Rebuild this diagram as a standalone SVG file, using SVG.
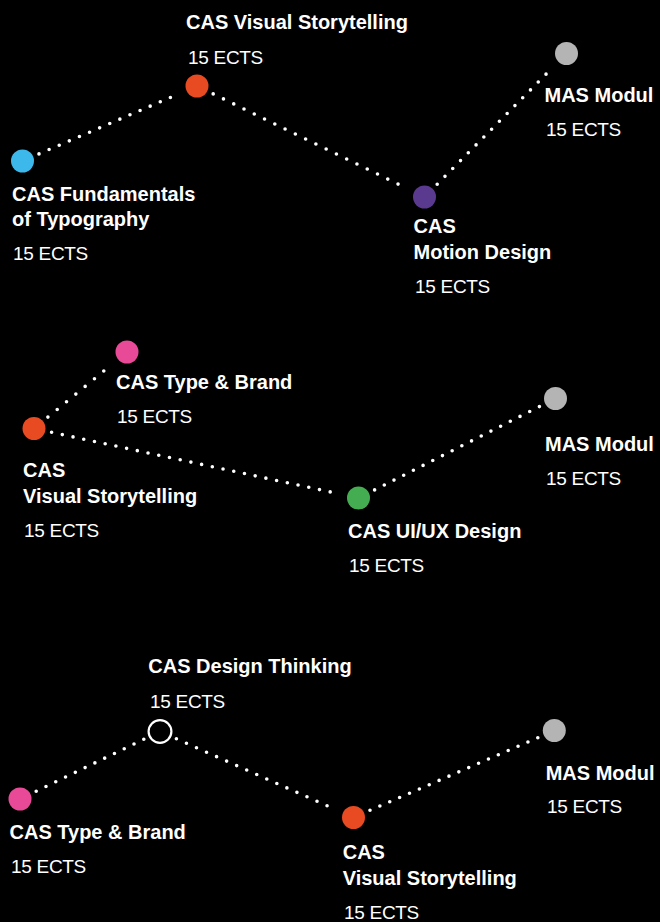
<svg xmlns="http://www.w3.org/2000/svg" width="660" height="922" viewBox="0 0 660 922">
<style>
.t{font-family:"Liberation Sans",Arial,sans-serif;font-weight:bold;font-size:20px;fill:#fff}
.e{font-family:"Liberation Sans",Arial,sans-serif;font-size:19px;letter-spacing:-0.3px;fill:#fff}
.c line{stroke:#fff;stroke-width:3.6;stroke-linecap:round;stroke-dasharray:0 1;fill:none}
.blue{fill:#3DB8EB}.orange{fill:#E84B21}.purple{fill:#5A3A8F}.gray{fill:#B4B4B4}.pink{fill:#E94A98}.green{fill:#44AD52}
.open{fill:#000;stroke:#fff;stroke-width:2.2}
</style>
<rect width="660" height="922" fill="#000"/>
<g id="connectors" class="c">
<line x1="39" y1="153.9" x2="180.5" y2="93.1" pathLength="14"/>
<line x1="213.2" y1="93.9" x2="408.3" y2="189.1" pathLength="19"/>
<line x1="437.2" y1="184.2" x2="553.8" y2="66.3" pathLength="15"/>
<line x1="47.9" y1="417.1" x2="113.1" y2="363.4" pathLength="7"/>
<line x1="51.6" y1="432.3" x2="340.9" y2="494.2" pathLength="27"/>
<line x1="374.6" y1="489.9" x2="539.4" y2="406.6" pathLength="17"/>
<line x1="36.2" y1="791.2" x2="143.8" y2="739.3" pathLength="11"/>
<line x1="176.4" y1="738.8" x2="337.1" y2="810.2" pathLength="16"/>
<line x1="370" y1="810.3" x2="537.8" y2="737.7" pathLength="17"/>
</g>
<g id="d1-fundamentals"><circle class="blue" cx="22.5" cy="161" r="11.5"/><text class="t" x="12" y="201">CAS Fundamentals</text><text class="t" x="12" y="226">of Typography</text><text class="e" x="13" y="260">15 ECTS</text></g>
<g id="d1-visual"><circle class="orange" cx="197" cy="86" r="11.5"/><text class="t" x="186" y="29">CAS Visual Storytelling</text><text class="e" x="188" y="64">15 ECTS</text></g>
<g id="d1-motion"><circle class="purple" cx="424.5" cy="197" r="11.5"/><text class="t" x="413.5" y="232.5">CAS</text><text class="t" x="413.5" y="258.5">Motion Design</text><text class="e" x="415" y="293">15 ECTS</text></g>
<g id="d1-mas"><circle class="gray" cx="566.5" cy="53.5" r="11.5"/><text class="t" x="544.5" y="102">MAS Modul</text><text class="e" x="546" y="136">15 ECTS</text></g>
<g id="d2-visual"><circle class="orange" cx="34" cy="428.5" r="11.5"/><text class="t" x="23" y="476.7">CAS</text><text class="t" x="23" y="503">Visual Storytelling</text><text class="e" x="24" y="536.7">15 ECTS</text></g>
<g id="d2-type"><circle class="pink" cx="127" cy="352" r="11.5"/><text class="t" x="116" y="389">CAS Type &amp; Brand</text><text class="e" x="117" y="423">15 ECTS</text></g>
<g id="d2-uiux"><circle class="green" cx="358.5" cy="498" r="11.5"/><text class="t" x="348" y="537.7">CAS UI/UX Design</text><text class="e" x="349" y="571.7">15 ECTS</text></g>
<g id="d2-mas"><circle class="gray" cx="555.5" cy="398.5" r="11.5"/><text class="t" x="545" y="451">MAS Modul</text><text class="e" x="546" y="485">15 ECTS</text></g>
<g id="d3-type"><circle class="pink" cx="20" cy="799" r="11.5"/><text class="t" x="9.5" y="839.3">CAS Type &amp; Brand</text><text class="e" x="11" y="873.3">15 ECTS</text></g>
<g id="d3-thinking"><circle class="open" cx="160" cy="731.5" r="11.4"/><text class="t" x="148.3" y="672.7">CAS Design Thinking</text><text class="e" x="150" y="707.7">15 ECTS</text></g>
<g id="d3-visual"><circle class="orange" cx="353.5" cy="817.5" r="11.5"/><text class="t" x="342.7" y="859.3">CAS</text><text class="t" x="342.7" y="885">Visual Storytelling</text><text class="e" x="344" y="919">15 ECTS</text></g>
<g id="d3-mas"><circle class="gray" cx="554.3" cy="730.5" r="11.5"/><text class="t" x="545.7" y="780">MAS Modul</text><text class="e" x="547" y="813.3">15 ECTS</text></g>
</svg>
